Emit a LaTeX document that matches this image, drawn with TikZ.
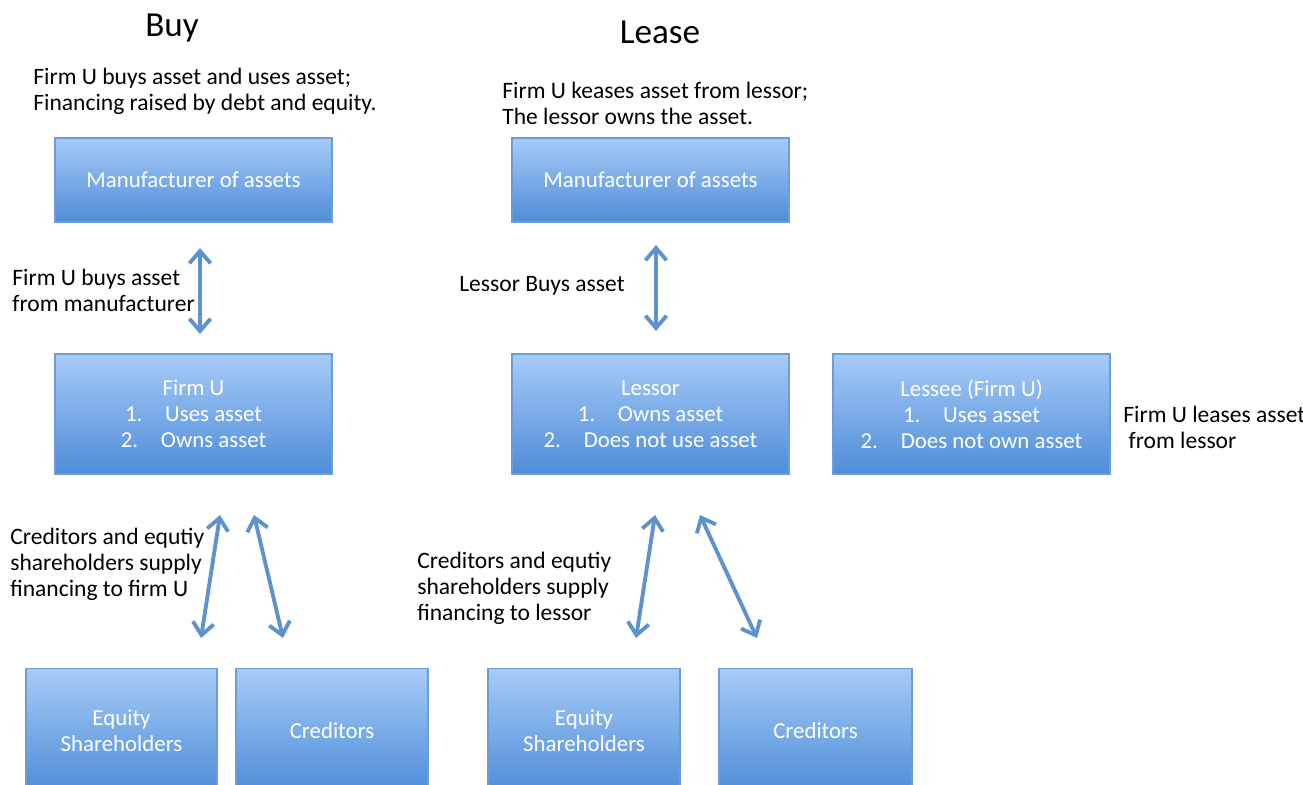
\documentclass[tikz,border=0pt]{standalone}
\usepackage{fontspec}
\setmainfont{Carlito}
\usepackage{tikz}
\usetikzlibrary{arrows.meta,shadows}
\usetikzlibrary{positioning}

\definecolor{boxtop}{HTML}{A6CBF7}
\definecolor{boxbot}{HTML}{4F8CD8}
\definecolor{boxline}{HTML}{6D9DD6}
\definecolor{arrowblue}{HTML}{5E92CC}

\tikzset{
  bluebox/.style={rectangle,draw=boxline,line width=0.6pt,top color=boxtop,bottom color=boxbot,
    text=white,align=center,inner sep=0pt,drop shadow={opacity=0.25,shadow xshift=0.6pt,shadow yshift=-0.8pt},
    font=\fontsize{13}{14.8}\selectfont},
  note/.style={align=left,inner sep=0pt,font=\fontsize{13.4}{14.8}\selectfont},
  twoway/.style={{Straight Barb[length=7pt,width=12pt]}-{Straight Barb[length=7pt,width=12pt]},arrowblue,line width=2.2pt}
}

\begin{document}
\begin{tikzpicture}[x=0.02cm,y=-0.02cm]
\clip (0,0) rectangle (1303,785);
\node at (172,28)[font=\fontsize{20}{22}\selectfont](buyT){Buy};
\node at (660,32)[font=\fontsize{20}{22}\selectfont](leaseT){Lease};
\node at (33,91)[note,anchor=west](buyN){Firm U buys asset and uses asset;\\Financing raised by debt and equity.};
\node at (502,103)[note,anchor=west](leaseN){Firm U keases asset from lessor;\\The lessor owns the asset.};

\node at (193.5,180)[bluebox,minimum width=277*0.02cm,minimum height=84*0.02cm](man1){Manufacturer of assets};
\node at (650.5,180)[bluebox,minimum width=277*0.02cm,minimum height=84*0.02cm](man2){Manufacturer of assets};

\node at (193.5,414)[bluebox,minimum width=277*0.02cm,minimum height=120*0.02cm](firm){Firm U\\1.\quad Uses asset\\2.\quad Owns asset};
\node at (650.5,414)[bluebox,minimum width=277*0.02cm,minimum height=120*0.02cm](lessor){Lessor\\1.\quad Owns asset\\2.\quad Does not use asset};
\node at (971.5,414)[bluebox,minimum width=277*0.02cm,minimum height=120*0.02cm](lessee){Lessee (Firm U)\\1.\quad Uses asset\\2.\quad Does not own asset};

\node at (121.5,730)[bluebox,minimum width=191*0.02cm,minimum height=124*0.02cm,anchor=north,yshift=62*0.02cm](eq1){Equity\\Shareholders};
\node at (332,730)[bluebox,minimum width=192*0.02cm,minimum height=124*0.02cm,anchor=north,yshift=62*0.02cm](cr1){Creditors};
\node at (584,730)[bluebox,minimum width=192*0.02cm,minimum height=124*0.02cm,anchor=north,yshift=62*0.02cm](eq2){Equity\\Shareholders};
\node at (815.5,730)[bluebox,minimum width=193*0.02cm,minimum height=124*0.02cm,anchor=north,yshift=62*0.02cm](cr2){Creditors};

\node at (12,290)[note,anchor=west](buyA){Firm U buys asset\\from manufacturer};
\node at (459,286)[note,anchor=west](leaseA){Lessor Buys asset};
\node at (1123,427)[note,anchor=west](leaseB){Firm U leases asset\\\ from lessor};
\node at (10,564)[note,anchor=west](buyF){Creditors and equtiy\\shareholders supply\\financing to firm U};
\node at (417,588)[note,anchor=west](leaseF){Creditors and equtiy\\shareholders supply\\financing to lessor};

\coordinate (b1) at (200,248);
\coordinate (b2) at (200,334);
\coordinate (l1) at (656,245);
\coordinate (l2) at (656,331);
\coordinate (f1) at (220,515);
\coordinate (f2) at (201,638);
\coordinate (f3) at (254,515);
\coordinate (f4) at (283,638);
\coordinate (s1) at (655,515);
\coordinate (s2) at (636,638);
\coordinate (s3) at (700,515);
\coordinate (s4) at (757,638);

\draw[twoway] (b1) -- (b2);
\draw[twoway] (l1) -- (l2);
\draw[twoway] (f1) -- (f2);
\draw[twoway] (f3) -- (f4);
\draw[twoway] (s1) -- (s2);
\draw[twoway] (s3) -- (s4);
\end{tikzpicture}
\end{document}
